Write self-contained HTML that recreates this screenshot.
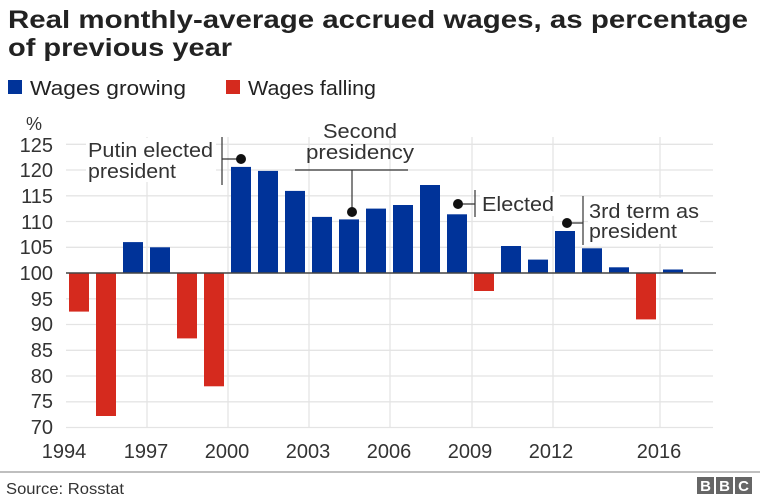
<!DOCTYPE html>
<html><head><style>
body{margin:0;background:#fff;}
svg{display:block;font-family:"Liberation Sans",Arial,sans-serif;}
</style></head><body>
<svg width="760" height="500" viewBox="0 0 760 500" xmlns="http://www.w3.org/2000/svg">
<text x="8" y="28" font-size="25" font-weight="bold" fill="#222" textLength="740" lengthAdjust="spacingAndGlyphs">Real monthly-average accrued wages, as percentage</text>
<text x="8" y="56" font-size="25" font-weight="bold" fill="#222" textLength="224" lengthAdjust="spacingAndGlyphs">of previous year</text>
<rect x="8" y="80" width="14" height="14" fill="#003399"/>
<text x="30" y="95" font-size="20" fill="#222" textLength="156" lengthAdjust="spacingAndGlyphs">Wages growing</text>
<rect x="226" y="80" width="14" height="14" fill="#d52a1e"/>
<text x="248" y="95" font-size="20" fill="#222" textLength="128" lengthAdjust="spacingAndGlyphs">Wages falling</text>
<g stroke="#e4e4e4" stroke-width="1.3">
<line x1="66" x2="713" y1="144.3" y2="144.3"/><line x1="66" x2="713" y1="170" y2="170"/><line x1="66" x2="713" y1="195.8" y2="195.8"/><line x1="66" x2="713" y1="221.5" y2="221.5"/><line x1="66" x2="713" y1="247.3" y2="247.3"/>
<line x1="66" x2="713" y1="298.8" y2="298.8"/><line x1="66" x2="713" y1="324.5" y2="324.5"/><line x1="66" x2="713" y1="350.3" y2="350.3"/><line x1="66" x2="713" y1="376" y2="376"/><line x1="66" x2="713" y1="401.8" y2="401.8"/><line x1="66" x2="713" y1="427.5" y2="427.5"/>
<line x1="147" x2="147" y1="137" y2="428"/><line x1="228" x2="228" y1="137" y2="428"/><line x1="309" x2="309" y1="137" y2="428"/><line x1="390" x2="390" y1="137" y2="428"/><line x1="472" x2="472" y1="137" y2="428"/><line x1="553" x2="553" y1="137" y2="428"/><line x1="660" x2="660" y1="137" y2="428"/>
</g>
<g font-size="20" fill="#333" text-anchor="end">
<text x="53" y="152">125</text><text x="53" y="177">120</text><text x="53" y="203">115</text><text x="53" y="229">110</text><text x="53" y="254">105</text><text x="53" y="280">100</text><text x="53" y="306">95</text><text x="53" y="331">90</text><text x="53" y="357">85</text><text x="53" y="383">80</text><text x="53" y="408">75</text><text x="53" y="434">70</text>
</g>
<text x="26" y="130" font-size="18" fill="#333">%</text>
<g font-size="20" fill="#333" text-anchor="middle">
<text x="64" y="458">1994</text><text x="146" y="458">1997</text><text x="227" y="458">2000</text><text x="308" y="458">2003</text><text x="389" y="458">2006</text><text x="470" y="458">2009</text><text x="551" y="458">2012</text><text x="659" y="458">2016</text>
</g>
<g fill="#d52a1e">
<rect x="69" y="273" width="20" height="38.6"/>
<rect x="96" y="273" width="20" height="143"/>
<rect x="177" y="273" width="20" height="65.4"/>
<rect x="204" y="273" width="20" height="113.3"/>
<rect x="474" y="273" width="20" height="18"/>
<rect x="636" y="273" width="20" height="46.4"/>
</g>
<g fill="#003399">
<rect x="123" y="242.1" width="20" height="30.9"/>
<rect x="150" y="247.3" width="20" height="25.7"/>
<rect x="231" y="166.9" width="20" height="106.1"/>
<rect x="258" y="170.9" width="20" height="102.1"/>
<rect x="285" y="190.9" width="20" height="82.1"/>
<rect x="312" y="216.9" width="20" height="56.1"/>
<rect x="339" y="219.4" width="20" height="53.6"/>
<rect x="366" y="208.6" width="20" height="64.4"/>
<rect x="393" y="205" width="20" height="68"/>
<rect x="420" y="185" width="20" height="88"/>
<rect x="447" y="214.3" width="20" height="58.7"/>
<rect x="501" y="246" width="20" height="27"/>
<rect x="528" y="259.6" width="20" height="13.4"/>
<rect x="555" y="231" width="20" height="42"/>
<rect x="582" y="248.3" width="20" height="24.7"/>
<rect x="609" y="267.3" width="20" height="5.7"/>
<rect x="663" y="269.5" width="20" height="3.5"/>
</g>
<line x1="66" x2="716" y1="273" y2="273" stroke="#444" stroke-width="1.5"/>
<g font-size="20" fill="#333">
<rect x="86" y="138" width="130" height="44" fill="#fff"/>
<text x="88" y="157" textLength="125" lengthAdjust="spacingAndGlyphs">Putin elected</text><text x="88" y="178" textLength="88" lengthAdjust="spacingAndGlyphs">president</text>
<text x="360" y="138" text-anchor="middle" textLength="74" lengthAdjust="spacingAndGlyphs">Second</text><text x="360" y="159" text-anchor="middle" textLength="108" lengthAdjust="spacingAndGlyphs">presidency</text>
<rect x="480" y="192" width="80" height="24" fill="#fff"/>
<text x="482" y="211" textLength="72" lengthAdjust="spacingAndGlyphs">Elected</text>
<rect x="588" y="198" width="112" height="46" fill="#fff"/>
<text x="589" y="218" textLength="110" lengthAdjust="spacingAndGlyphs">3rd term as</text><text x="589" y="238" textLength="88" lengthAdjust="spacingAndGlyphs">president</text>
</g>
<g stroke="#333" stroke-width="1.2" fill="none">
<line x1="222" x2="222" y1="137" y2="185"/><line x1="222" x2="241" y1="159" y2="159"/>
<line x1="295" x2="408" y1="170" y2="170"/><line x1="352" x2="352" y1="170" y2="212"/>
<line x1="457" x2="475" y1="204" y2="204"/><line x1="475" x2="475" y1="190" y2="217"/>
<line x1="566" x2="583" y1="223" y2="223"/><line x1="583" x2="583" y1="196" y2="245"/>
</g>
<g fill="#111"><circle cx="241" cy="159" r="5"/><circle cx="352" cy="212" r="5"/><circle cx="458" cy="204" r="5"/><circle cx="567" cy="223" r="5"/></g>
<line x1="0" x2="760" y1="472" y2="472" stroke="#999" stroke-width="1.3"/>
<text x="6" y="494" font-size="16" fill="#333" textLength="118" lengthAdjust="spacingAndGlyphs">Source: Rosstat</text>
<g fill="#666"><rect x="697" y="477" width="17" height="17"/><rect x="716" y="477" width="17" height="17"/><rect x="735" y="477" width="17" height="17"/></g>
<g font-size="15" font-weight="bold" fill="#fff" text-anchor="middle"><text x="705.5" y="491">B</text><text x="724.5" y="491">B</text><text x="743.5" y="491">C</text></g>
</svg>
</body></html>
